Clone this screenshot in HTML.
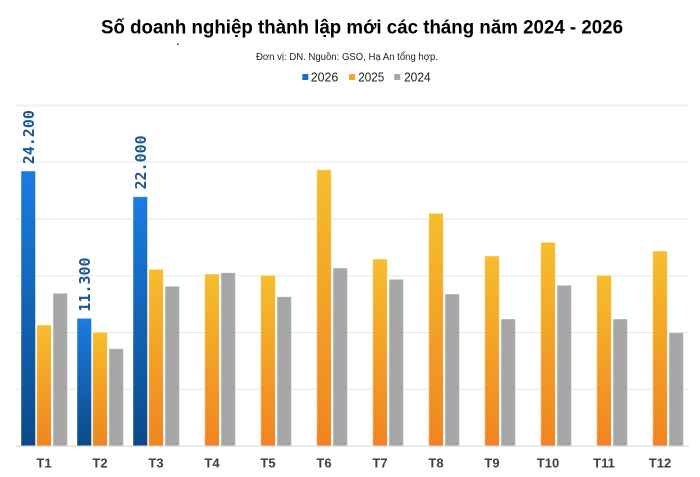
<!DOCTYPE html>
<html><head><meta charset="utf-8"><style>
html,body{margin:0;padding:0;background:#fff;}
svg{display:block;}
</style></head><body>
<svg width="700" height="477" viewBox="0 0 700 477" xmlns="http://www.w3.org/2000/svg">
<defs>
<linearGradient id="gb" x1="0" y1="0" x2="0" y2="1"><stop offset="0" stop-color="#1a7ce2"/><stop offset="1" stop-color="#0b4a88"/></linearGradient>
<linearGradient id="gy" x1="0" y1="0" x2="0" y2="1"><stop offset="0" stop-color="#f5bd2e"/><stop offset="1" stop-color="#f08420"/></linearGradient>
</defs>
<rect width="700" height="477" fill="#fff"/>
<text x="101" y="33.5" font-family="Liberation Sans, sans-serif" font-weight="bold" font-size="19.5" fill="#000" textLength="522" lengthAdjust="spacingAndGlyphs">Số doanh nghiệp thành lập mới các tháng năm 2024 - 2026</text>
<rect x="177" y="43.5" width="1.5" height="1.5" fill="#333"/>
<text x="256" y="60" font-family="Liberation Sans, sans-serif" font-size="10" fill="#222" textLength="182" lengthAdjust="spacingAndGlyphs">Đơn vị: DN. Nguồn: GSO, Hạ An tổng hợp.</text>
<rect x="302.3" y="74" width="6" height="6" fill="#1a6fcc"/>
<text x="310.7" y="81.5" font-family="Liberation Sans, sans-serif" font-size="13" fill="#222" textLength="27.6" lengthAdjust="spacingAndGlyphs">2026</text>
<rect x="349" y="74" width="6" height="6" fill="#f4a92a"/>
<text x="358.3" y="81.5" font-family="Liberation Sans, sans-serif" font-size="13" fill="#222" textLength="26" lengthAdjust="spacingAndGlyphs">2025</text>
<rect x="394.3" y="74" width="6" height="6" fill="#a6a6a6"/>
<text x="404" y="81.5" font-family="Liberation Sans, sans-serif" font-size="13" fill="#222" textLength="26.7" lengthAdjust="spacingAndGlyphs">2024</text>
<g>
<rect x="16" y="104.5" width="673" height="2" fill="#f2f2f2"/>
<rect x="16" y="161.5" width="673" height="1" fill="#e6e6e6"/>
<rect x="16" y="218.5" width="673" height="1" fill="#e6e6e6"/>
<rect x="16" y="275.3" width="673" height="1" fill="#e6e6e6"/>
<rect x="16" y="332" width="673" height="1" fill="#e6e6e6"/>
<rect x="16" y="388.8" width="673" height="1" fill="#e6e6e6"/>
</g>
<g stroke="#ffffff" stroke-opacity="0.45" stroke-width="1">
<!-- T1 c=44 -->
<rect x="21" y="171" width="14.5" height="275" fill="url(#gb)"/>
<rect x="36.7" y="325" width="14.6" height="121" fill="url(#gy)"/>
<rect x="53" y="293.3" width="14.4" height="152.7" fill="#a6a6a6"/>
<!-- T2 c=100 -->
<rect x="77" y="318.3" width="14.5" height="127.7" fill="url(#gb)"/>
<rect x="92.7" y="332.3" width="14.6" height="113.7" fill="url(#gy)"/>
<rect x="109" y="348.7" width="14.4" height="97.3" fill="#a6a6a6"/>
<!-- T3 c=156 -->
<rect x="133" y="196.7" width="14.5" height="249.3" fill="url(#gb)"/>
<rect x="148.7" y="269.3" width="14.6" height="176.7" fill="url(#gy)"/>
<rect x="165" y="286.3" width="14.4" height="159.7" fill="#a6a6a6"/>
<!-- T4 c=212 -->
<rect x="204.7" y="274" width="14.6" height="172" fill="url(#gy)"/>
<rect x="221" y="272.7" width="14.4" height="173.3" fill="#a6a6a6"/>
<!-- T5 c=268 -->
<rect x="260.7" y="275.3" width="14.6" height="170.7" fill="url(#gy)"/>
<rect x="277" y="296.7" width="14.4" height="149.3" fill="#a6a6a6"/>
<!-- T6 c=324 -->
<rect x="316.7" y="169.7" width="14.6" height="276.3" fill="url(#gy)"/>
<rect x="333" y="268" width="14.4" height="178" fill="#a6a6a6"/>
<!-- T7 c=380 -->
<rect x="372.7" y="259" width="14.6" height="187" fill="url(#gy)"/>
<rect x="389" y="279.3" width="14.4" height="166.7" fill="#a6a6a6"/>
<!-- T8 c=436 -->
<rect x="428.7" y="213.3" width="14.6" height="232.7" fill="url(#gy)"/>
<rect x="445" y="294" width="14.4" height="152" fill="#a6a6a6"/>
<!-- T9 c=492 -->
<rect x="484.7" y="256" width="14.6" height="190" fill="url(#gy)"/>
<rect x="501" y="319" width="14.4" height="127" fill="#a6a6a6"/>
<!-- T10 c=548 -->
<rect x="540.7" y="242.3" width="14.6" height="203.7" fill="url(#gy)"/>
<rect x="557" y="285.3" width="14.4" height="160.7" fill="#a6a6a6"/>
<!-- T11 c=604 -->
<rect x="596.7" y="275.3" width="14.6" height="170.7" fill="url(#gy)"/>
<rect x="613" y="319" width="14.4" height="127" fill="#a6a6a6"/>
<!-- T12 c=660 -->
<rect x="652.7" y="251" width="14.6" height="195" fill="url(#gy)"/>
<rect x="669" y="332.7" width="14.4" height="113.3" fill="#a6a6a6"/>
</g>
<rect x="16" y="445.5" width="673" height="1.2" fill="#d9d9d9"/>
<g font-family="DejaVu Sans Mono, Liberation Mono, monospace" font-weight="bold" font-size="15" fill="#1b5592">
<text transform="translate(33.8,164.3) rotate(-90)">24.200</text>
<text transform="translate(89.8,311.6) rotate(-90)">11.300</text>
<text transform="translate(145.8,189.5) rotate(-90)">22.000</text>
</g>
<g font-family="Liberation Sans, sans-serif" font-weight="bold" font-size="13" fill="#404040" text-anchor="middle">
<text x="44" y="467.5">T1</text>
<text x="100" y="467.5">T2</text>
<text x="156" y="467.5">T3</text>
<text x="212" y="467.5">T4</text>
<text x="268" y="467.5">T5</text>
<text x="324" y="467.5">T6</text>
<text x="380" y="467.5">T7</text>
<text x="436" y="467.5">T8</text>
<text x="492" y="467.5">T9</text>
<text x="548" y="467.5">T10</text>
<text x="604" y="467.5">T11</text>
<text x="660" y="467.5">T12</text>
</g>
</svg>
</body></html>
